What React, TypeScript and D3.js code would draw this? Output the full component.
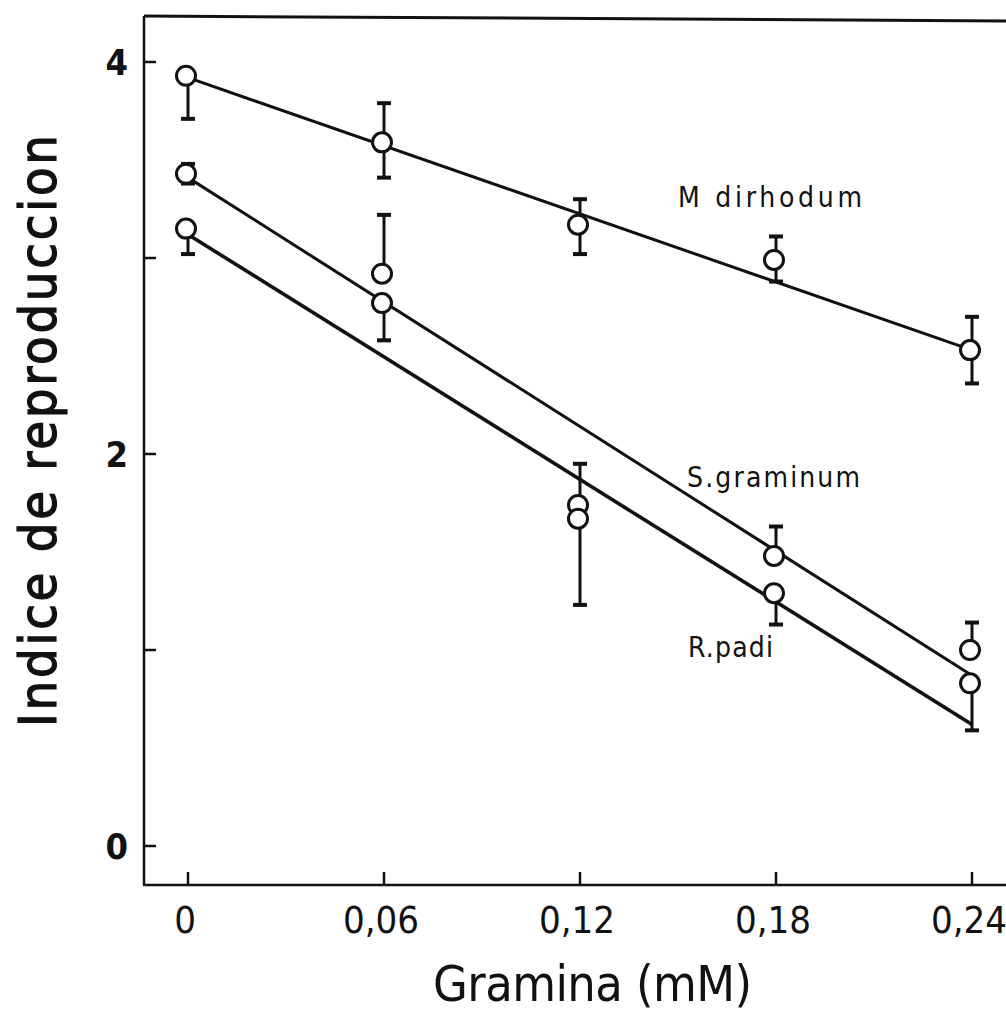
import React from "react";
import * as d3 from "d3";

// ---- data ----
const doses = [0, 0.06, 0.12, 0.18, 0.24];
const xTickLabels = ["0", "0,06", "0,12", "0,18", "0,24"];
const yTicks = [0, 1, 2, 3, 4];
const yTickLabels = ["0", "", "2", "", "4"];

const mDirhodum = [3.93, 3.59, 3.17, 2.99, 2.53];
const mErrLow = [3.71, 3.41, 3.02, 2.88, 2.36];
const mErrHigh = [null, 3.79, 3.3, 3.11, 2.7];
const mFit = [3.92, 2.53];

const sGraminum = [3.43, 2.77, 1.74, 1.48, 1.0];
const sErrLow = [3.38, 2.58, null, null, null];
const sErrHigh = [3.48, null, 1.95, 1.63, 1.14];
const sFit = [3.41, 0.87];

const rPadi = [3.15, 2.92, 1.67, 1.29, 0.83];
const rErrLow = [3.02, null, 1.23, 1.13, 0.59];
const rErrHigh = [null, 3.22, null, null, null];
const rFit = [3.12, 0.62];

const seriesNames = ["M dirhodum", "S.graminum", "R.padi"];

const W = 1006;
const H = 1017;
const FONT = "'DejaVu Sans Condensed', 'DejaVu Sans', sans-serif";

export default function App() {
  const x = d3.scaleLinear().domain([0, 0.24]).range([188, 972]);
  const y = d3.scaleLinear().domain([0, 4]).range([846, 62]);

  const series = [
    { name: seriesNames[0], vals: mDirhodum, lo: mErrLow, hi: mErrHigh, fit: mFit, lx: 678, ly: 207, len: 184, fitW: 3 },
    { name: seriesNames[1], vals: sGraminum, lo: sErrLow, hi: sErrHigh, fit: sFit, lx: 687, ly: 487, len: 173, fitW: 3 },
    { name: seriesNames[2], vals: rPadi, lo: rErrLow, hi: rErrHigh, fit: rFit, lx: 688, ly: 657, len: 85, fitW: 3.6 },
  ];

  const line = d3
    .line<[number, number]>()
    .x((d) => x(d[0]))
    .y((d) => y(d[1]));

  const axisX = 144;
  const axisBottom = 885;
  const capW = 7;

  return (
    <svg
      width={W}
      height={H}
      style={{ position: "absolute", left: 0, top: 0, background: "#fff" }}
    >
      <rect x={0} y={0} width={W} height={H} fill="#fff" />
      {/* frame */}
      <line x1={axisX} y1={16} x2={W} y2={21} stroke="#111" strokeWidth={3} />
      <line x1={axisX} y1={16} x2={axisX} y2={axisBottom} stroke="#111" strokeWidth={2.5} />
      <line x1={axisX - 1} y1={axisBottom} x2={W} y2={axisBottom} stroke="#111" strokeWidth={2.5} />

      {/* y ticks */}
      {yTicks.map((t, i) => (
        <g key={"yt" + t}>
          <line x1={axisX} x2={axisX + 12} y1={y(t)} y2={y(t)} stroke="#111" strokeWidth={2.5} />
          {yTickLabels[i] && (
            <text
              x={128}
              y={y(t) + 13}
              textAnchor="end"
              fontFamily={FONT}
              fontWeight="bold"
              fontSize={36}
              fill="#111"
            >
              {yTickLabels[i]}
            </text>
          )}
        </g>
      ))}

      {/* x ticks */}
      {doses.map((d, i) => (
        <g key={"xt" + d}>
          <line x1={x(d)} x2={x(d)} y1={axisBottom} y2={axisBottom - 13} stroke="#111" strokeWidth={2.5} />
          <text
            x={x(d) - 3}
            y={933}
            textAnchor="middle"
            fontFamily={FONT}
            fontSize={38}
            fill="#111"
          >
            {xTickLabels[i]}
          </text>
        </g>
      ))}

      {/* axis titles */}
      <text
        x={433}
        y={1001}
        fontFamily={FONT}
        fontSize={50}
        fill="#111"
        textLength={319}
        lengthAdjust="spacing"
      >
        Gramina (mM)
      </text>
      <text
        transform="translate(56,727) rotate(-90)"
        x={0}
        y={0}
        fontFamily={FONT}
        fontSize={52}
        fill="#111"
        stroke="#111"
        strokeWidth={1.2}
        textLength={592}
        lengthAdjust="spacing"
      >
        Indice de reproduccion
      </text>

      {/* fit lines */}
      {series.map((s) => (
        <path
          key={"fit" + s.name}
          d={line([
            [doses[0], s.fit[0]],
            [doses[doses.length - 1], s.fit[1]],
          ]) as string}
          fill="none"
          stroke="#111"
          strokeWidth={s.fitW}
        />
      ))}

      {/* error bars */}
      {series.map((s) =>
        doses.map((d, i) => {
          const cx = x(d);
          const parts = [];
          const lo = s.lo[i];
          const hi = s.hi[i];
          if (lo != null) {
            parts.push(
              <g key={"lo" + i}>
                <line x1={cx} x2={cx} y1={y(s.vals[i])} y2={y(lo)} stroke="#111" strokeWidth={3} />
                <line x1={cx - capW} x2={cx + capW} y1={y(lo)} y2={y(lo)} stroke="#111" strokeWidth={4} />
              </g>
            );
          }
          if (hi != null) {
            parts.push(
              <g key={"hi" + i}>
                <line x1={cx} x2={cx} y1={y(s.vals[i])} y2={y(hi)} stroke="#111" strokeWidth={3} />
                <line x1={cx - capW} x2={cx + capW} y1={y(hi)} y2={y(hi)} stroke="#111" strokeWidth={4} />
              </g>
            );
          }
          return <g key={s.name + "e" + i}>{parts}</g>;
        })
      )}

      {/* points */}
      {series.map((s) =>
        doses.map((d, i) => (
          <circle
            key={s.name + "p" + i}
            cx={x(d) - 2}
            cy={y(s.vals[i])}
            r={9.5}
            fill="#fff"
            stroke="#111"
            strokeWidth={3}
          />
        ))
      )}

      {/* series labels */}
      {series.map((s) => (
        <text
          key={"lab" + s.name}
          x={s.lx}
          y={s.ly}
          fontFamily={FONT}
          fontSize={28}
          fill="#111"
          textLength={s.len}
          lengthAdjust="spacing"
        >
          {s.name}
        </text>
      ))}
    </svg>
  );
}
